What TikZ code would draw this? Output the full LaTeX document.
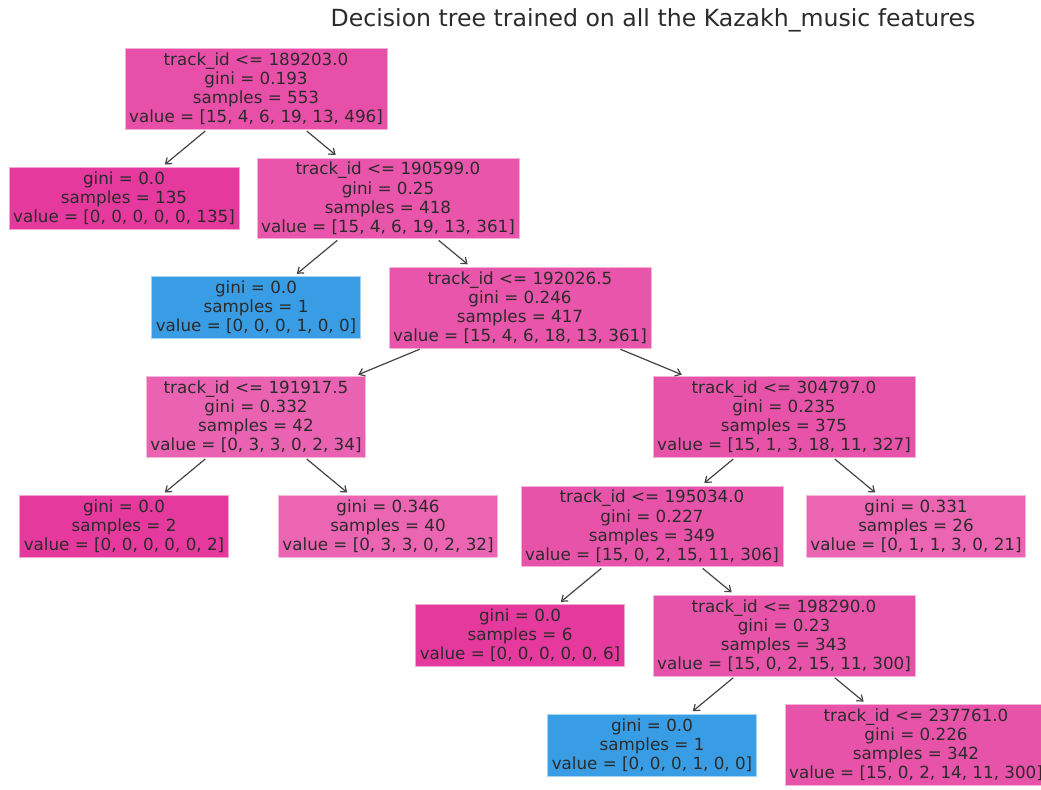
\documentclass[tikz,border=0pt]{standalone}
\usepackage{fontspec}
\setmainfont{DejaVu Sans}
\usepackage{xcolor}
\usepackage{tikz}
\usetikzlibrary{arrows.meta}
\usetikzlibrary{positioning}

\definecolor{pinkc}{HTML}{E5399D}
\definecolor{bluec}{HTML}{399DE5}
\definecolor{txt}{HTML}{2B2B2B}
\definecolor{arr}{HTML}{444444}

\begin{document}
\begin{tikzpicture}[x=0.75pt, y=-0.75pt, >={Straight Barb[length=4pt,width=6pt]},
  node distance = 82pt and 99pt, on grid,
  box/.style ={rectangle, draw=#1!45!white, line width=0.5pt, fill=#1, text=txt, align=center,
    inner xsep=3pt, inner ysep=3.3pt, font=\fontsize{12.55}{14.3}\selectfont},
  link/.style ={->, arr, line width=0.9pt, shorten >=3pt, shorten <=1.5pt}]
\useasboundingbox (0,0) rectangle (1041,789);
\node[txt, font=\fontsize{17.7}{20}\selectfont] (title) at (653,20) {Decision tree trained on all the Kazakh\_music features};
%root
\node[box=pinkc!89!white] (0) at (256,89) {track\_id <= 189203.0\\gini = 0.193\\samples = 553\\value = [15, 4, 6, 19, 13, 496]};
\node[box=pinkc] (1) [below left =of 0] {gini = 0.0\\samples = 135\\value = [0, 0, 0, 0, 0, 135]};
\node[box=pinkc!86!white] (2) [below right =of 0] {track\_id <= 190599.0\\gini = 0.25\\samples = 418\\value = [15, 4, 6, 19, 13, 361]};
\node[box=bluec] (3) [below left =of 2] {gini = 0.0\\samples = 1\\value = [0, 0, 0, 1, 0, 0]};
\node[box=pinkc!86!white] (4) [below right =of 2] {track\_id <= 192026.5\\gini = 0.246\\samples = 417\\value = [15, 4, 6, 18, 13, 361]};
\node[box=pinkc!79!white] (5) [below left =of 4, xshift=-99pt] {track\_id <= 191917.5\\gini = 0.332\\samples = 42\\value = [0, 3, 3, 0, 2, 34]};
\node[box=pinkc!87!white] (6) [below right =of 4, xshift=99pt] {track\_id <= 304797.0\\gini = 0.235\\samples = 375\\value = [15, 1, 3, 18, 11, 327]};
\node[box=pinkc] (7) [below left =of 5] {gini = 0.0\\samples = 2\\value = [0, 0, 0, 0, 0, 2]};
\node[box=pinkc!78!white] (8) [below right =of 5] {gini = 0.346\\samples = 40\\value = [0, 3, 3, 0, 2, 32]};
\node[box=pinkc!87!white] (9) [below left =of 6] {track\_id <= 195034.0\\gini = 0.227\\samples = 349\\value = [15, 0, 2, 15, 11, 306]};
\node[box=pinkc!78!white] (10) [below right =of 6] {gini = 0.331\\samples = 26\\value = [0, 1, 1, 3, 0, 21]};
\node[box=pinkc] (11) [below left =of 9] {gini = 0.0\\samples = 6\\value = [0, 0, 0, 0, 0, 6]};
\node[box=pinkc!87!white] (12) [below right =of 9] {track\_id <= 198290.0\\gini = 0.23\\samples = 343\\value = [15, 0, 2, 15, 11, 300]};
\node[box=bluec] (13) [below left =of 12] {gini = 0.0\\samples = 1\\value = [0, 0, 0, 1, 0, 0]};
\node[box=pinkc!87!white] (14) [below right =of 12] {track\_id <= 237761.0\\gini = 0.226\\samples = 342\\value = [15, 0, 2, 14, 11, 300]};
\path[link]
	(0) edge (1)
	(0) edge (2)
	(2) edge (3)
	(2) edge (4)
	(4) edge (5)
	(4) edge (6)
	(5) edge (7)
	(5) edge (8)
	(6) edge (9)
	(6) edge (10)
	(9) edge (11)
	(9) edge (12)
	(12) edge (13)
	(12) edge (14)
	;
\end{tikzpicture}
\end{document}
